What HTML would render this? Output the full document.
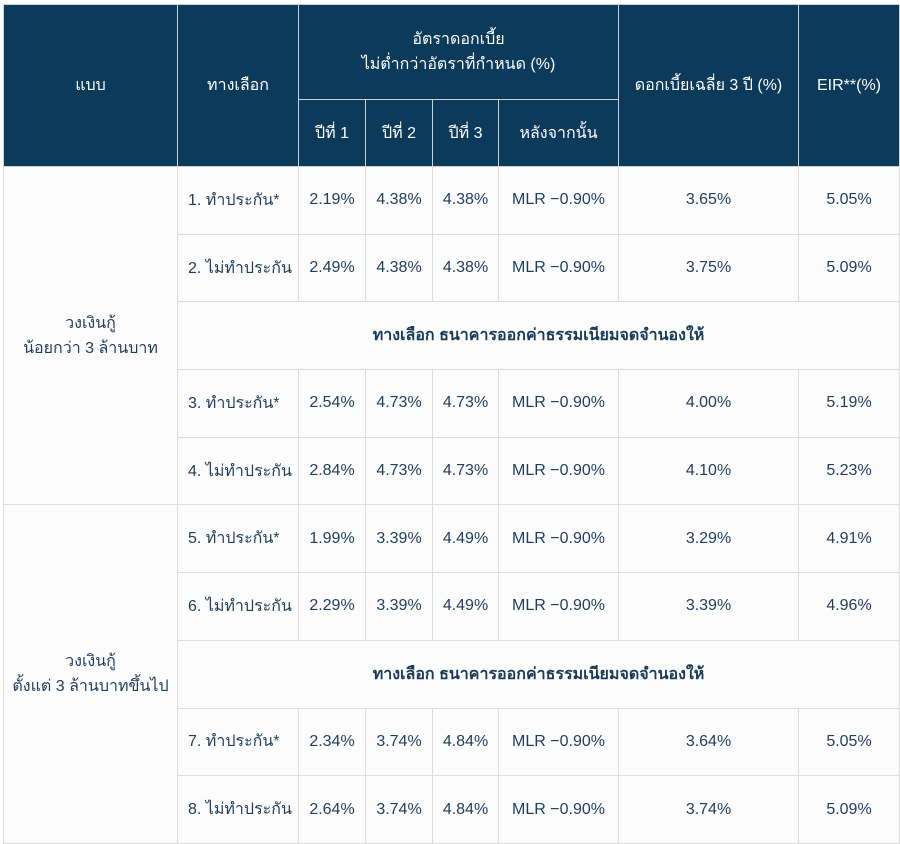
<!DOCTYPE html>
<html><head><meta charset="utf-8">
<style>
html,body{margin:0;padding:0;background:#fff;width:900px;height:843px;overflow:hidden}
table{position:absolute;left:3px;top:4px;border-collapse:collapse;table-layout:fixed;width:896px;
font-family:"Liberation Sans","Noto Sans CJK SC",sans-serif;font-size:16px;color:#1e3d5c}
th{background:#0b3a5a;color:#fff;font-weight:normal;border:1px solid #c9d3dc;text-align:center;vertical-align:middle}
td{border:1px solid #dcdcdc;text-align:center;vertical-align:middle;background:#fcfcfc}
td.opt{text-align:left;padding-left:10px}
tr.h1{height:95px}tr.h2{height:67px}
tbody tr{height:67.7px}
td.note{font-weight:bold;color:#1b3a58}
</style></head><body>
<table>
<colgroup><col style="width:174px"><col style="width:121px"><col style="width:67px"><col style="width:67px"><col style="width:66px"><col style="width:120px"><col style="width:180px"><col style="width:101px"></colgroup>
<thead>
<tr class="h1">
<th rowspan="2">แบบ</th>
<th rowspan="2">ทางเลือก</th>
<th colspan="4">อัตราดอกเบี้ย<br>ไม่ต่ำกว่าอัตราที่กำหนด (%)</th>
<th rowspan="2">ดอกเบี้ยเฉลี่ย 3 ปี (%)</th>
<th rowspan="2">EIR**(%)</th>
</tr>
<tr class="h2">
<th>ปีที่ 1</th>
<th>ปีที่ 2</th>
<th>ปีที่ 3</th>
<th>หลังจากนั้น</th>
</tr>
</thead>
<tbody>
<tr><td rowspan="5">วงเงินกู้<br>น้อยกว่า 3 ล้านบาท</td><td class="opt">1. ทำประกัน*</td><td>2.19%</td><td>4.38%</td><td>4.38%</td><td>MLR −0.90%</td><td>3.65%</td><td>5.05%</td></tr>
<tr><td class="opt">2. ไม่ทำประกัน</td><td>2.49%</td><td>4.38%</td><td>4.38%</td><td>MLR −0.90%</td><td>3.75%</td><td>5.09%</td></tr>
<tr><td colspan="7" class="note">ทางเลือก ธนาคารออกค่าธรรมเนียมจดจำนองให้</td></tr>
<tr><td class="opt">3. ทำประกัน*</td><td>2.54%</td><td>4.73%</td><td>4.73%</td><td>MLR −0.90%</td><td>4.00%</td><td>5.19%</td></tr>
<tr><td class="opt">4. ไม่ทำประกัน</td><td>2.84%</td><td>4.73%</td><td>4.73%</td><td>MLR −0.90%</td><td>4.10%</td><td>5.23%</td></tr>
<tr><td rowspan="5">วงเงินกู้<br>ตั้งแต่ 3 ล้านบาทขึ้นไป</td><td class="opt">5. ทำประกัน*</td><td>1.99%</td><td>3.39%</td><td>4.49%</td><td>MLR −0.90%</td><td>3.29%</td><td>4.91%</td></tr>
<tr><td class="opt">6. ไม่ทำประกัน</td><td>2.29%</td><td>3.39%</td><td>4.49%</td><td>MLR −0.90%</td><td>3.39%</td><td>4.96%</td></tr>
<tr><td colspan="7" class="note">ทางเลือก ธนาคารออกค่าธรรมเนียมจดจำนองให้</td></tr>
<tr><td class="opt">7. ทำประกัน*</td><td>2.34%</td><td>3.74%</td><td>4.84%</td><td>MLR −0.90%</td><td>3.64%</td><td>5.05%</td></tr>
<tr><td class="opt">8. ไม่ทำประกัน</td><td>2.64%</td><td>3.74%</td><td>4.84%</td><td>MLR −0.90%</td><td>3.74%</td><td>5.09%</td></tr>
</tbody>
</table>
</body></html>
